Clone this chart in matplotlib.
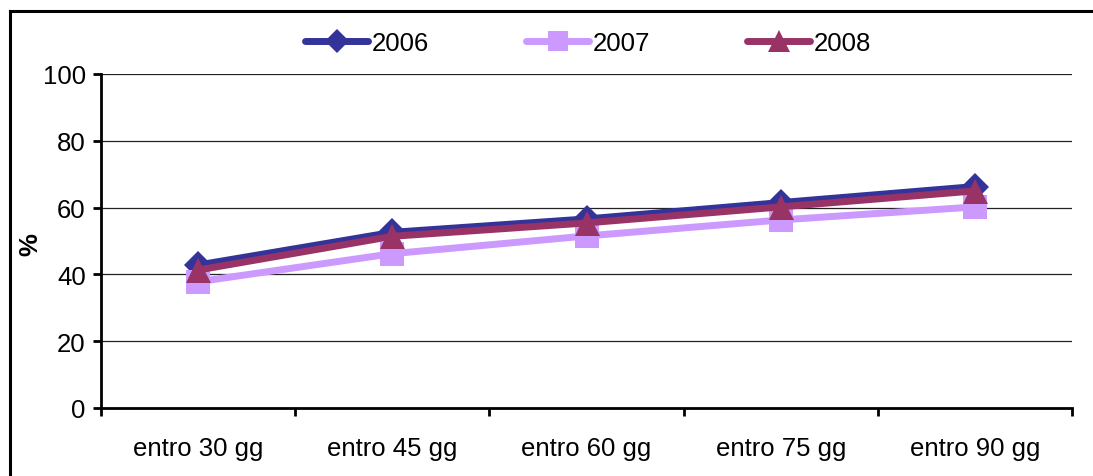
import numpy as np
import matplotlib.pyplot as plt
from matplotlib.lines import Line2D

plt.rcParams['font.family'] = ['Liberation Sans', 'DejaVu Sans']

categories = ["entro 30 gg", "entro 45 gg", "entro 60 gg", "entro 75 gg", "entro 90 gg"]
years = ["2006", "2007", "2008"]
v2006 = [42.8, 52.6, 56.6, 61.5, 66.3]
v2007 = [37.8, 46.2, 51.5, 56.3, 60.2]
v2008 = [41.3, 51.4, 55.4, 60.2, 65.0]

colors = ["#333399", "#CC99FF", "#993366"]
markers = ["D", "s", "^"]
msizes = [14, 17, 18]
fs = 18.5

fig = plt.figure(figsize=(10.93, 4.77), dpi=100)
ax = fig.add_axes([0.0924, 0.1426, 0.8884, 0.7002])

x = np.arange(len(categories))
for vals, lab, c, m, ms in zip([v2006, v2007, v2008], years, colors, markers, msizes):
    ax.plot(x, vals, color=c, lw=5, marker=m, markersize=ms, markeredgewidth=0,
            label=lab, solid_capstyle="round", solid_joinstyle="miter")

ax.set_xlim(-0.5, 4.5)
ax.set_ylim(0, 100)
ax.set_yticks(range(0, 101, 20))
ax.set_xticks(x)
ax.set_xticklabels(categories)
ax.set_xticks(np.arange(-0.5, 5, 1), minor=True)
ax.tick_params(axis="x", which="major", length=0, labelsize=fs, pad=20)
ax.tick_params(axis="x", which="minor", length=6, width=2, direction="out")
ax.tick_params(axis="y", length=6, width=2, direction="out", labelsize=fs, pad=5)
ax.yaxis.grid(True, color="#222222", lw=0.9)
ax.set_axisbelow(True)
for s in ["top", "right"]:
    ax.spines[s].set_visible(False)
for s in ["left", "bottom"]:
    ax.spines[s].set_linewidth(2)

fig.text(30 / 1093, 1 - 245 / 477, "%", fontsize=fs, fontweight="bold",
         rotation=90, ha="center", va="center")

leg = fig.legend(loc="center", bbox_to_anchor=(0.538, 0.908), ncol=3, frameon=False,
                 fontsize=fs, handlelength=2.45, handletextpad=0.12, columnspacing=3.8,
                 markerscale=0.85)

# border of the chart area (right and bottom edges fall outside the picture)
bx, by = 9.5 / 1093, 1 - 11.5 / 477
fig.add_artist(Line2D([bx, 1.01], [by, by], transform=fig.transFigure, color="black", lw=2.2))
fig.add_artist(Line2D([bx, bx], [-0.01, by], transform=fig.transFigure, color="black", lw=2.2))

fig.savefig("out.png", dpi=100)
